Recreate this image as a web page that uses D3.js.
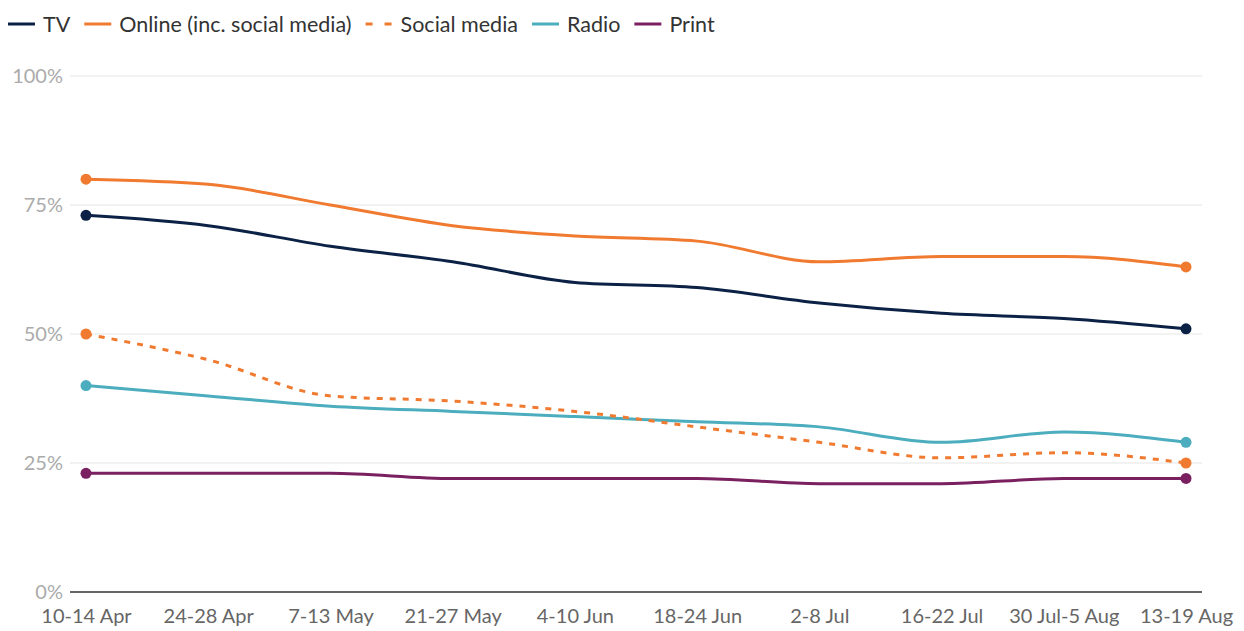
<!DOCTYPE html>
<html>
<head>
<meta charset="utf-8">
<script src="https://cdn.jsdelivr.net/npm/d3@7"></script>
<style>
  body { margin: 0; background: #fff; }
</style>
</head>
<body>
<div id="chart"></div>
<script>
var weeks = ['10-14 Apr', '24-28 Apr', '7-13 May', '21-27 May', '4-10 Jun',
             '18-24 Jun', '2-8 Jul', '16-22 Jul', '30 Jul-5 Aug', '13-19 Aug'];

var tv          = [73, 71, 67, 64, 60, 59, 56, 54, 53, 51];
var online      = [80, 79, 75, 71, 69, 68, 64, 65, 65, 63];
var socialMedia = [50, 45, 38, 37, 35, 32, 29, 26, 27, 25];
var radio       = [40, 38, 36, 35, 34, 33, 32, 29, 31, 29];
var print       = [23, 23, 23, 22, 22, 22, 21, 21, 22, 22];

var yTicks = [0, 25, 50, 75, 100];

var series = [
  { name: 'TV', values: tv, color: '#0b2145', dashed: false },
  { name: 'Online (inc. social media)', values: online, color: '#f07a2f', dashed: false },
  { name: 'Social media', values: socialMedia, color: '#f07a2f', dashed: true },
  { name: 'Radio', values: radio, color: '#4badbd', dashed: false },
  { name: 'Print', values: print, color: '#7a1f5f', dashed: false }
];

var width = 1244,
    height = 631;

var fontFamily = 'Lato, "Open Sans", sans-serif',
    fontSize = '20px',
    legendFontSize = '21.5px';

var gridLeft = 70,
    gridRight = 1202;

var svg = d3.select('#chart')
  .append('svg')
  .attr('width', width)
  .attr('height', height);

var x = d3.scalePoint()
  .domain(weeks)
  .range([86, 1186]);

var y = d3.scaleLinear()
  .domain([0, 100])
  .range([592, 76]);

// gridlines
svg.append('g')
  .selectAll('line')
  .data(yTicks.filter(function(d) { return d > 0; }))
  .enter().append('line')
  .attr('x1', gridLeft)
  .attr('x2', gridRight)
  .attr('y1', function(d) { return y(d); })
  .attr('y2', function(d) { return y(d); })
  .style('stroke', '#e5e5e5')
  .style('stroke-width', 1.2);

// baseline
svg.append('line')
  .attr('x1', gridLeft)
  .attr('x2', gridRight)
  .attr('y1', y(0))
  .attr('y2', y(0))
  .style('stroke', '#333')
  .style('stroke-width', 1.5);

// y labels
var yAxis = svg.append('g')
  .attr('transform', 'translate(63,0)')
  .call(d3.axisLeft(y).tickValues(yTicks).tickSize(0).tickPadding(0)
    .tickFormat(function(d) { return d + '%'; }));
yAxis.select('.domain').remove();
yAxis.selectAll('text')
  .attr('font-family', fontFamily)
  .attr('font-size', fontSize)
  .attr('fill', '#ababab');

// x labels
var xAxis = svg.append('g')
  .attr('transform', 'translate(0,' + y(0) + ')')
  .call(d3.axisBottom(x).tickSize(0).tickPadding(17));
xAxis.select('.domain').remove();
xAxis.selectAll('text')
  .attr('font-family', fontFamily)
  .attr('font-size', fontSize)
  .attr('fill', '#666');

// lines
var line = d3.line()
  .x(function(d, i) { return x(weeks[i]); })
  .y(function(d) { return y(d); })
  .curve(d3.curveMonotoneX);

series.slice().reverse().forEach(function(s) {
  var g = svg.append('g');
  g.append('path')
    .attr('d', line(s.values))
    .style('fill', 'none')
    .style('stroke', s.color)
    .style('stroke-width', 3)
    .style('stroke-dasharray', s.dashed ? '6,7' : null);

  var ends = [0, s.values.length - 1];
  g.selectAll('circle')
    .data(ends)
    .enter().append('circle')
    .attr('cx', function(i) { return x(weeks[i]); })
    .attr('cy', function(i) { return y(s.values[i]); })
    .attr('r', 5.5)
    .style('fill', s.color);
});

// legend
var legend = svg.append('g').attr('transform', 'translate(8,24)');
var lx = 0;
series.forEach(function(s) {
  legend.append('line')
    .attr('x1', lx)
    .attr('x2', lx + 27)
    .attr('y1', 0)
    .attr('y2', 0)
    .style('stroke', s.color)
    .style('stroke-width', 3)
    .style('stroke-dasharray', s.dashed ? '7,12' : null);
  var t = legend.append('text')
    .text(s.name)
    .attr('x', lx + 35)
    .attr('y', 0)
    .attr('dy', '0.35em')
    .attr('font-family', fontFamily)
    .attr('font-size', legendFontSize)
    .attr('fill', '#333');
  lx += 35 + t.node().getComputedTextLength() + 14;
});
</script>
</body>
</html>
